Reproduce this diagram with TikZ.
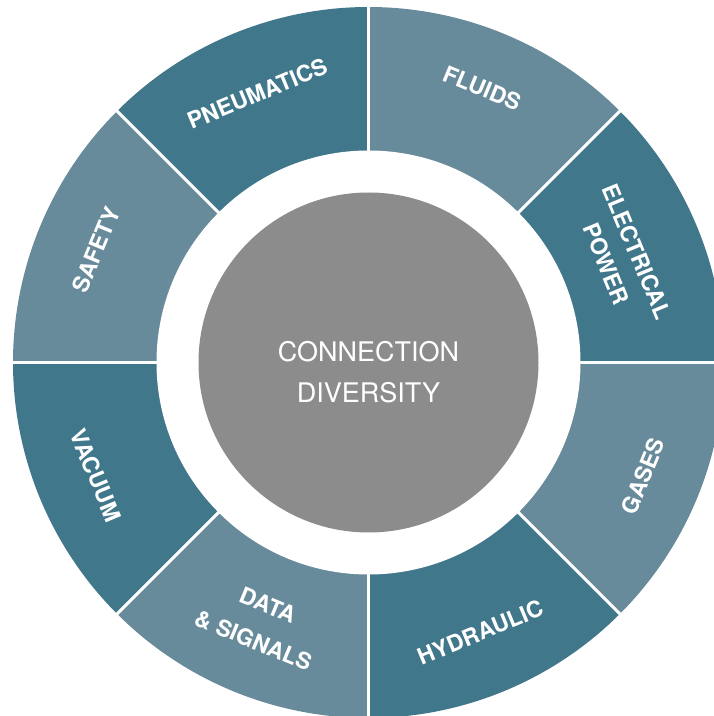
\documentclass[tikz,border=0pt]{standalone}
\usepackage{fontspec}
\setmainfont{TeX Gyre Heros}
\definecolor{segdark}{RGB}{65,119,139}
\definecolor{seglight}{RGB}{104,139,155}
\definecolor{hubgray}{RGB}{139,140,139}
\begin{document}
\begin{tikzpicture}[x=1pt,y=1pt,
  seglbl/.style={text=white, font=\bfseries\fontsize{22.8}{33}\selectfont, align=center, inner sep=0pt},
  hubtext/.style={text=white, font=\fontsize{27}{41}\selectfont, align=center, inner sep=0pt},
  gapline/.style={white, line width=3pt}]
\useasboundingbox (0,0) rectangle (714,716);
\clip (0,0) rectangle (714,716);
\begin{scope}[shift={(368.5,353.5)}]
  \foreach \a/\c in {45/seglight, 0/segdark, -45/seglight, -90/segdark, -135/seglight, -180/segdark, 135/seglight, 90/segdark}
    \fill[\c] (0,0) -- (\a:355.5pt) arc[start angle=\a, delta angle=45, radius=355.5pt] -- cycle;
  \foreach \a in {0,45,...,315}
    \draw[gapline] (0,0) -- (\a:360pt);
  \fill[white] (0,0) circle[radius=212pt];
  \node[circle, fill=hubgray, minimum size=340pt, inner sep=0pt] (hub) at (0,0) {};
  \node[hubtext] (hubtxt) at (0,-10) {CONNECTION\\DIVERSITY};
  \node[seglbl, rotate=-22.5] (fluids) at (67.5:297pt) {FLUIDS};
  \node[seglbl, rotate=-67.5] (elec) at (22.5:274pt) {ELECTRICAL\\POWER};
  \node[seglbl, rotate=67.5] (gases) at (-22.5:297pt) {GASES};
  \node[seglbl, rotate=22.5] (hydr) at (-67.5:292pt) {HYDRAULIC};
  \node[seglbl, rotate=-22.5] (data) at (-112.5:282pt) {DATA\\[5pt]\& SIGNALS};
  \node[seglbl, rotate=-67.5] (vac) at (-157.5:295pt) {VACUUM};
  \node[seglbl, rotate=67.5] (safety) at (157.5:295pt) {SAFETY};
  \node[seglbl, rotate=22.5] (pneu) at (112.5:291pt) {PNEUMATICS};
\end{scope}
\end{tikzpicture}
\end{document}
